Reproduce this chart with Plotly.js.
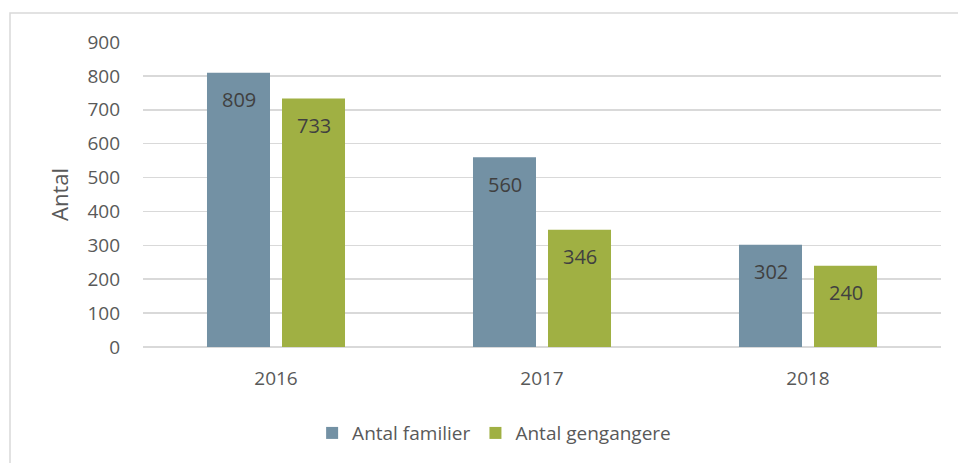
<!DOCTYPE html>
<html>
<head>
<meta charset="utf-8">
<script src="https://cdn.plot.ly/plotly-3.0.1.min.js"></script>
<style>html,body{margin:0;padding:0;background:#fff;}#chart{width:958px;height:463px;}</style>
</head>
<body>
<div id="chart"></div>
<script>
const years = ["2016", "2017", "2018"];
const familier = [809, 560, 302];
const gengangere = [733, 346, 240];
const seriesNames = ["Antal familier", "Antal gengangere"];
const yTicks = [0, 100, 200, 300, 400, 500, 600, 700, 800, 900];

const colors = ["#7391A4", "#A0B043"];
const font = "Open Sans, Noto Sans, sans-serif";
const textCol = "#595959";

const traces = [familier, gengangere].map((vals, i) => ({
  type: "bar",
  name: seriesNames[i],
  x: years,
  y: vals,
  marker: {color: colors[i]},
  hoverinfo: "none"
}));

const annotations = [];
[familier, gengangere].forEach((vals, i) => {
  vals.forEach((v, j) => {
    annotations.push({
      x: j, y: v, xref: "x", yref: "y",
      text: String(v), showarrow: false,
      xshift: i === 0 ? -37.5 : 37.5, yshift: -27,
      yanchor: "middle",
      font: {family: font, size: 20, color: "#404040"}
    });
  });
});

const layout = {
  width: 958, height: 463,
  margin: {l: 143, r: 17, t: 42, b: 115},
  paper_bgcolor: "#fff", plot_bgcolor: "#fff",
  barmode: "group", bargap: 0.436, bargroupgap: 0.16,
  font: {family: font, color: textCol, size: 19},
  xaxis: {
    type: "category", range: [-0.5, 2.5], autorange: false,
    showgrid: false, zeroline: false, showline: false,
    ticks: "", tickfont: {size: 19, color: textCol}, ticklabelstandoff: 18
  },
  yaxis: {
    range: [0, 900], autorange: false, tickvals: yTicks, ticktext: yTicks.map(String),
    showgrid: true, gridcolor: "#D9D9D9", gridwidth: 1.5,
    zeroline: true, zerolinecolor: "#D9D9D9", zerolinewidth: 1.5,
    showline: false, ticks: "", ticklabelstandoff: 22,
    tickfont: {size: 19, color: textCol},
    title: {text: "Antal", font: {size: 22, color: textCol}, standoff: 12}
  },
  legend: {
    orientation: "h", x: 0.44, xanchor: "center", y: -0.278, yanchor: "middle",
    font: {size: 19, color: textCol}, traceorder: "normal", itemwidth: 30
  },
  annotations: annotations,
  shapes: [{
    type: "rect", xref: "paper", yref: "paper",
    x0: (10 - 143) / 798, x1: (980 - 143) / 798,
    y0: (348 - 480) / 306, y1: (348 - 13) / 306,
    line: {color: "#D9D9D9", width: 1.5}, fillcolor: "rgba(0,0,0,0)", layer: "below"
  }]
};

Plotly.newPlot("chart", traces, layout, {displayModeBar: false, staticPlot: true});
</script>
</body>
</html>
